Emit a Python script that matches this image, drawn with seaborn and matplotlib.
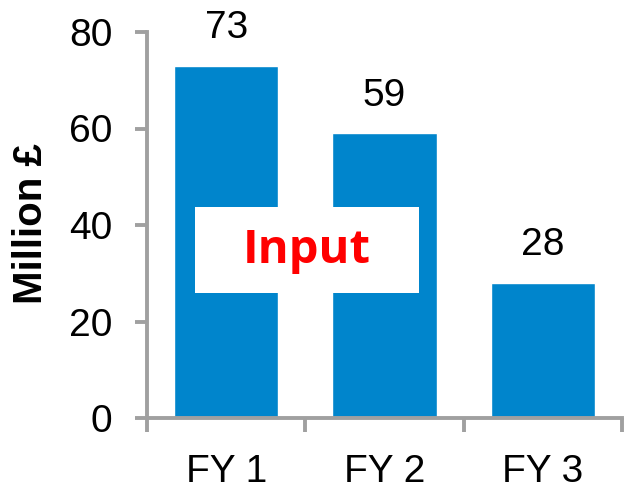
import matplotlib
matplotlib.use("Agg")
import matplotlib.pyplot as plt
import seaborn as sns
from matplotlib.patches import Rectangle

categories = ["FY 1", "FY 2", "FY 3"]
values = [73, 59, 28]
yticks = [0, 20, 40, 60, 80]

BAR = "#0085CC"
GRAY = "#A0A0A0"

sns.set_theme(style="white")
plt.rcParams['font.family'] = ['Liberation Sans', 'DejaVu Sans']

W, H = 627, 493
fig = plt.figure(figsize=(W / 100, H / 100), dpi=100)
ax = fig.add_axes([147 / W, (H - 418) / H, (622 - 147) / W, (418 - 32) / H])

sns.barplot(x=categories, y=values, color=BAR, saturation=1, width=0.66, ax=ax)

ax.set_xlim(-0.5, 2.5)
ax.set_ylim(0, 80)
ax.set_yticks(yticks)
ax.set_yticklabels([str(t) for t in yticks], fontsize=28, color="black")

for s in ["top", "right"]:
    ax.spines[s].set_visible(False)
for s in ["left", "bottom"]:
    ax.spines[s].set_color(GRAY)
    ax.spines[s].set_linewidth(2.8)

ax.tick_params(axis="y", which="major", direction="out", length=9, width=2.8,
               color=GRAY, left=True, pad=16, labelcolor="black")
ax.tick_params(axis="x", which="major", length=0, labelsize=28, pad=26,
               labelcolor="black")
ax.set_xticks([-0.5, 0.5, 1.5, 2.5], minor=True)
ax.tick_params(axis="x", which="minor", direction="out", length=10, width=2.8,
               color=GRAY, bottom=True)

ax.set_ylabel("Million £", fontsize=29, fontweight="bold", color="black",
              va="center", ha="center")
ax.yaxis.set_label_coords(-0.244, 0.503)
ax.set_xlabel("")

for c in ax.containers:
    ax.bar_label(c, labels=[str(v) for v in values], fontsize=28, padding=14,
                 color="black")

ax.add_patch(Rectangle((-0.2, 25.9), 1.42, 17.8, facecolor="white",
                       edgecolor="none", zorder=5))
ax.text(0.51, 34.8, "Input", color="#FF0000", fontsize=34, fontweight="bold",
        ha="center", va="center", zorder=6, family=['Open Sans', 'DejaVu Sans'])

fig.savefig("out.png", dpi=100)
